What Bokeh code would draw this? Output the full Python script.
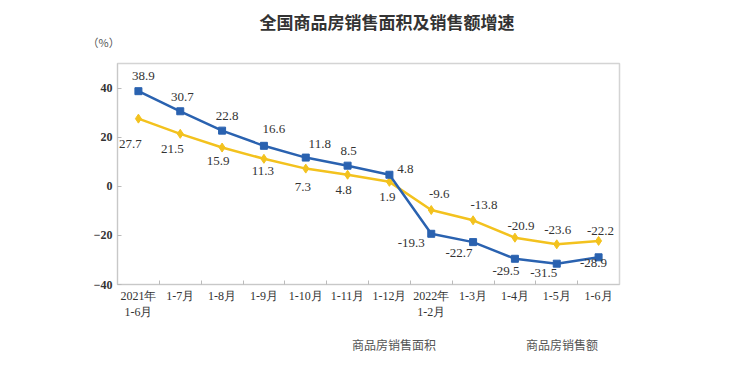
from bokeh.plotting import figure
from bokeh.layouts import column
from bokeh.models import (ColumnDataSource, FixedTicker, Range1d, Title, Legend, LegendItem)
from bokeh.core.properties import value
from bokeh.embed import file_html
from bokeh.resources import INLINE

categories = ["2021年\n1-6月", "1-7月", "1-8月", "1-9月", "1-10月", "1-11月", "1-12月",
              "2022年\n1-2月", "1-3月", "1-4月", "1-5月", "1-6月"]
area_growth = [27.7, 21.5, 15.9, 11.3, 7.3, 4.8, 1.9, -9.6, -13.8, -20.9, -23.6, -22.2]
sales_growth = [38.9, 30.7, 22.8, 16.6, 11.8, 8.5, 4.8, -19.3, -22.7, -29.5, -31.5, -28.9]
y_ticks = [-40, -20, 0, 20, 40]
series_names = ["商品房销售面积", "商品房销售额"]

# label offsets in pixels (x right, y down)
area_dx = [-8, -8, -4, -1, -3, -4, -2, 8, 11, 6, 1, 2]
area_dy = [25, 15, 13, 12, 18, 15, 15, -16, -15, -12, -14, -10]
sales_dx = [5, 2, 5, 10, 14, 1, 16, -20, -14, -9, -13, -5]
sales_dy = [-15, -14, -15, -17, -14, -15, -6, 9, 11, 12, 9, 6]

YELLOW = "#F3C21E"
BLUE = "#2A62B0"

xs = [i + 0.5 for i in range(len(categories))]
src = ColumnDataSource(dict(
    x=xs, area=area_growth, sales=sales_growth,
    area_txt=[f"{v:.1f}" for v in area_growth],
    sales_txt=[f"{v:.1f}" for v in sales_growth],
    adx=area_dx, ady=area_dy, sdx=sales_dx, sdy=sales_dy,
))

p = figure(width=729, height=330, frame_width=502, frame_height=221,
           output_backend="svg", toolbar_location=None, title=None,
           x_range=Range1d(0, len(categories)), y_range=Range1d(-40, 50.2),
           min_border_left=117, min_border_right=110, min_border_top=63, min_border_bottom=46)
p.background_fill_color = "white"
p.border_fill_color = "white"
p.outline_line_color = "#d4d4d4"
p.outline_line_width = 1.5
p.xgrid.visible = False
p.ygrid.visible = False

# axes
p.xaxis.ticker = FixedTicker(ticks=xs, minor_ticks=list(range(1, len(categories))))
p.xaxis.major_label_overrides = {x: c for x, c in zip(xs, categories)}
p.xaxis.major_tick_in = 0
p.xaxis.major_tick_out = 0
p.xaxis.minor_tick_in = 4
p.xaxis.minor_tick_out = 0
p.xaxis.minor_tick_line_color = "#bbbbbb"
p.xaxis.axis_line_color = "#c8c8c8"
p.xaxis.major_label_text_font = "Liberation Serif"
p.xaxis.major_label_text_font_size = "12px"
p.xaxis.major_label_text_color = "#333333"
p.xaxis.major_label_standoff = 4

p.yaxis.ticker = FixedTicker(ticks=y_ticks)
p.yaxis.major_tick_in = 4
p.yaxis.major_tick_out = 0
p.yaxis.minor_tick_line_color = None
p.yaxis.major_tick_line_color = "#bbbbbb"
p.yaxis.axis_line_color = "#c8c8c8"
p.yaxis.major_label_text_font = "Liberation Serif"
p.yaxis.major_label_text_font_size = "12px"
p.yaxis.major_label_text_font_style = "bold"
p.yaxis.major_label_text_color = "#333333"
p.yaxis.major_label_standoff = 5

# series
p.line("x", "area", source=src, line_color=YELLOW, line_width=2.5)
p.scatter("x", "area", source=src, marker="diamond", size=9, color=YELLOW)
p.line("x", "sales", source=src, line_color=BLUE, line_width=2.5)
p.scatter("x", "sales", source=src, marker="square", size=7, color=BLUE)

p.text("x", "area", text="area_txt", source=src, x_offset="adx", y_offset="ady",
       text_align="center", text_baseline="middle", text_font=value("Liberation Serif"),
       text_font_size="13px", text_color="#333333")
p.text("x", "sales", text="sales_txt", source=src, x_offset="sdx", y_offset="sdy",
       text_align="center", text_baseline="middle", text_font=value("Liberation Serif"),
       text_font_size="13px", text_color="#333333")

# unit and title (first added is nearest the frame)
p.add_layout(Title(text="（%）", align="left", offset=-30, standoff=27,
                   text_font="Noto Sans CJK SC", text_font_size="11px",
                   text_font_style="normal", text_color="#555555"), "above")
p.add_layout(Title(text="全国商品房销售面积及销售额增速", align="left", offset=142, standoff=-30,
                   text_font="Noto Sans CJK SC", text_font_size="17px",
                   text_font_style="bold", text_color="#333333"), "above")

# legend strip below the chart
lp = figure(width=729, height=27, output_backend="svg", toolbar_location=None, title=None,
            x_axis_type=None, y_axis_type=None,
            min_border_left=0, min_border_right=0, min_border_top=0, min_border_bottom=0)
lp.outline_line_color = None
lp.xgrid.visible = False
lp.ygrid.visible = False
empty = ColumnDataSource(dict(x=[], y=[]))
la = lp.line("x", "y", source=empty, line_color=YELLOW, line_width=2.5)
ma = lp.scatter("x", "y", source=empty, marker="diamond", size=9, color=YELLOW)
ls = lp.line("x", "y", source=empty, line_color=BLUE, line_width=2.5)
ms = lp.scatter("x", "y", source=empty, marker="square", size=7, color=BLUE)

legend = Legend(items=[LegendItem(label=series_names[0], renderers=[la, ma]),
                       LegendItem(label=series_names[1], renderers=[ls, ms])],
                orientation="horizontal", location=(202, 3), padding=0, margin=0,
                spacing=57, glyph_width=30, glyph_height=20, label_standoff=3,
                label_text_font="Noto Sans CJK SC", label_text_font_size="12px",
                label_text_color="#555555", background_fill_alpha=0, border_line_alpha=0)
lp.add_layout(legend, "center")

open("out.html", "w").write(file_html(column(p, lp, spacing=0), INLINE))
